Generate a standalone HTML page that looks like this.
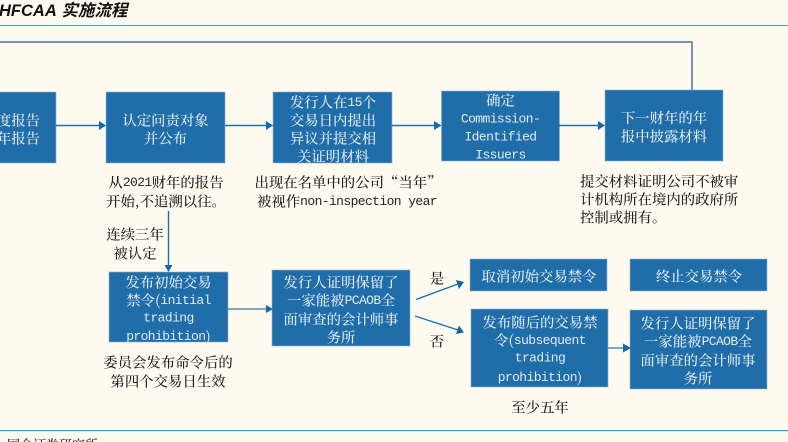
<!DOCTYPE html>
<html lang="zh">
<head>
<meta charset="utf-8">
<style>
html,body{margin:0;padding:0;background:#fffaf0;}
body{width:788px;height:442px;overflow:hidden;}
svg{display:block;filter:blur(.3px);}
text{font-family:"Noto Serif CJK SC","Liberation Serif",serif;font-size:14.4px;font-weight:500;dominant-baseline:central;text-spacing-trim:space-all;font-kerning:none;}
.w{fill:#e2eaf1;text-anchor:middle;}
.k{fill:#222;text-anchor:middle;}
.l{fill:#222;}
.m{font-family:"Liberation Mono",monospace;font-size:13px;letter-spacing:-.6px;font-weight:400;}
.t{font-family:"Liberation Sans","Noto Sans CJK SC",sans-serif;font-size:16.5px;font-weight:700;font-style:italic;fill:#111;}
.b{fill:#1f6ea9;stroke:#8fb0c8;stroke-width:.6;}
.c{stroke:#1a6fb0;stroke-width:1.4;fill:none;}
.h{fill:#1268ac;}
</style>
</head>
<body>
<svg width="788" height="442" viewBox="0 0 788 442" xmlns="http://www.w3.org/2000/svg">
<rect width="788" height="442" fill="#fffaf0"/>
<text class="t" x="-1" y="11">HFCAA 实施流程</text>
<rect x="0" y="25" width="788" height="1" fill="#4ba3d4"/>
<path d="M0 42H692V90" fill="none" stroke="#7895ad" stroke-width="2"/>
<rect x="0" y="430" width="788" height="1.2" fill="#1fa9e0"/>
<text class="l" x="7" y="444" style="font-size:13px">国金证券研究所</text>

<rect class="b" x="-2" y="92" width="58" height="71"/>
<rect class="b" x="106" y="92" width="119" height="71"/>
<rect class="b" x="273" y="92" width="119" height="71"/>
<rect class="b" x="441.500" y="91" width="118" height="70"/>
<rect class="b" x="605" y="90" width="118" height="71"/>
<rect class="b" x="109" y="272" width="119" height="70"/>
<rect class="b" x="272" y="270" width="138" height="76"/>
<rect class="b" x="470" y="259" width="137" height="32"/>
<rect class="b" x="630" y="259" width="137" height="32"/>
<rect class="b" x="471" y="309" width="137" height="78"/>
<rect class="b" x="630" y="310" width="137" height="79"/>

<path class="c" d="M56 125.500H100M225 125.500H267M392 125.500H435M559 125.500H599"/>
<path class="h" d="M99 121L106 125.500L99 130ZM266 121L273 125.500L266 130ZM434 121L441.500 125.500L434 130ZM598 121L605 125.500L598 130Z"/>
<path class="c" d="M168.500 211V266"/>
<path class="h" d="M164.500 265H172.500L168.500 272Z"/>
<path d="M228 309H266" fill="none" stroke="#5f8cad" stroke-width="1.6"/>
<path class="h" d="M266 305L273 309L266 313Z"/>
<path class="c" d="M416 299.500L458 284"/>
<path class="h" d="M456 280L464 282L459 289Z"/>
<path class="c" d="M415 316L458 330"/>
<path class="h" d="M459 325.500L464 332.500L456 334Z"/>
<path d="M608 348H625" fill="none" stroke="#5f8cad" stroke-width="1.4"/>
<path class="h" d="M623 343.500L631 348L623 352.500Z"/>

<text class="w" x="40" y="120" style="text-anchor:end">年度报告</text>
<text class="w" x="40" y="138" style="text-anchor:end">年报告</text>

<text class="w" x="165.500" y="120">认定问责对象</text>
<text class="w" x="165.500" y="138">并公布</text>

<text class="w" x="333" y="102">发行人在<tspan class="m">15</tspan>个</text>
<text class="w" x="333" y="120">交易日内提出</text>
<text class="w" x="333" y="138">异议并提交相</text>
<text class="w" x="333" y="156">关证明材料</text>

<text class="w" x="500.500" y="100">确定</text>
<text class="w m" x="500.500" y="119">Commission-</text>
<text class="w m" x="500.500" y="137">Identified</text>
<text class="w m" x="500.500" y="155">Issuers</text>

<text class="w" x="664" y="117.500">下一财年的年</text>
<text class="w" x="664" y="136">报中披露材料</text>

<text class="k" x="166" y="182">从<tspan class="m">2021</tspan>财年的报告</text>
<text class="k" x="166" y="201">开始,不追溯以往。</text>

<text class="k" x="348" y="182">出现在名单中的公司“当年”</text>
<text class="k" x="347" y="201">被视作<tspan class="m">non-inspection year</tspan></text>

<text class="l" x="580" y="181">提交材料证明公司不被审</text>
<text class="l" x="580" y="199">计机构所在境内的政府所</text>
<text class="l" x="580" y="217">控制或拥有。</text>

<text class="k" x="135" y="234">连续三年</text>
<text class="k" x="135" y="253">被认定</text>

<text class="w" x="168.500" y="282">发布初始交易</text>
<text class="w" x="168.500" y="300">禁令(<tspan class="m">initial</tspan></text>
<text class="w m" x="168.500" y="318">trading</text>
<text class="w" x="168.500" y="336"><tspan class="m">prohibition</tspan>)</text>

<text class="k" x="168" y="362">委员会发布命令后的</text>
<text class="k" x="168" y="381">第四个交易日生效</text>

<text class="w" x="341" y="282">发行人证明保留了</text>
<text class="w" x="341" y="300">一家能被<tspan class="m">PCAOB</tspan>全</text>
<text class="w" x="341" y="319">面审查的会计师事</text>
<text class="w" x="341" y="337">务所</text>

<text class="k" x="437" y="278">是</text>
<text class="k" x="437" y="341">否</text>

<text class="w" x="539" y="276">取消初始交易禁令</text>
<text class="w" x="699" y="276">终止交易禁令</text>

<text class="w" x="540" y="322">发布随后的交易禁</text>
<text class="w" x="540" y="340">令(<tspan class="m">subsequent</tspan></text>
<text class="w m" x="540" y="358">trading</text>
<text class="w" x="540" y="377"><tspan class="m">prohibition</tspan>)</text>

<text class="k" x="540" y="407">至少五年</text>

<text class="w" x="698" y="323">发行人证明保留了</text>
<text class="w" x="698" y="341">一家能被<tspan class="m">PCAOB</tspan>全</text>
<text class="w" x="698" y="360">面审查的会计师事</text>
<text class="w" x="698" y="378">务所</text>
</svg>
</body>
</html>
